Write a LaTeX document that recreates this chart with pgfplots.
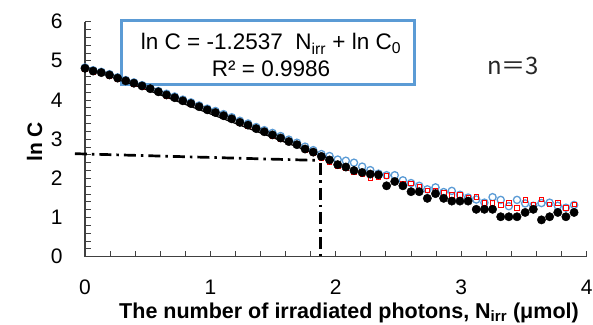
\documentclass[border=0pt]{standalone}
\usepackage{pgfplots}
\pgfplotsset{compat=1.18}
\usepackage{pgfplotstable}
\usepackage{fontspec}
\setmainfont{Liberation Sans}
\newfontfamily\cjk{Noto Sans CJK JP}
\definecolor{xlblue}{HTML}{5B9BD5}
\definecolor{xlred}{HTML}{FF0000}

\pgfplotstableread{
N black blue red
0.000 4.81 4.83 4.79
0.065 4.74 4.76 4.72
0.130 4.70 4.72 4.68
0.195 4.64 4.66 4.62
0.260 4.56 4.58 4.54
0.325 4.49 4.51 4.47
0.390 4.43 4.45 4.41
0.455 4.36 4.38 4.34
0.520 4.29 4.31 4.27
0.585 4.21 4.23 4.19
0.650 4.13 4.16 4.11
0.715 4.06 4.09 4.04
0.780 3.98 4.01 3.96
0.845 3.91 3.94 3.89
0.910 3.83 3.86 3.81
0.975 3.75 3.78 3.73
1.040 3.68 3.72 3.66
1.105 3.60 3.64 3.58
1.170 3.52 3.56 3.50
1.235 3.43 3.47 3.41
1.300 3.36 3.40 3.34
1.365 3.27 3.31 3.25
1.430 3.19 3.23 3.17
1.495 3.11 3.16 3.09
1.560 3.03 3.08 3.01
1.625 2.94 2.99 2.92
1.690 2.86 2.91 2.84
1.755 2.75 2.81 2.72
1.820 2.67 2.72 2.64
1.885 2.56 2.62 2.52
1.950 2.47 2.57 2.41
2.015 2.35 2.48 2.32
2.080 2.29 2.45 2.26
2.145 2.20 2.40 2.17
2.210 2.15 2.30 2.10
2.275 2.11 2.21 2.01
2.340 2.09 2.12 2.04
2.405 1.81 2.08 2.06
2.470 1.92 2.08 1.93
2.535 1.81 1.95 1.88
2.600 1.66 1.88 1.87
2.665 1.66 1.81 1.78
2.730 1.49 1.72 1.70
2.795 1.61 1.77 1.68
2.860 1.49 1.65 1.63
2.925 1.42 1.68 1.58
2.990 1.42 1.58 1.58
3.055 1.42 1.51 1.52
3.120 1.21 1.46 1.53
3.185 1.21 1.38 1.38
3.250 1.21 1.52 1.38
3.315 1.02 1.45 1.32
3.380 1.02 1.29 1.38
3.445 1.02 1.45 1.25
3.510 1.13 1.36 1.45
3.575 1.21 1.30 1.34
3.640 0.94 1.37 1.47
3.705 1.02 1.38 1.34
3.770 1.13 1.30 1.38
3.835 1.02 1.25 1.25
3.900 1.13 1.32 1.34
}\datatable

\begin{document}
\begin{tikzpicture}
\useasboundingbox (0,0) rectangle (593pt,324pt);
% equation box
\draw[xlblue, line width=3pt] (121pt,239pt) rectangle (414pt,303pt);
\node[anchor=base, font=\fontsize{22.5}{27}\selectfont, inner sep=0pt] at (271pt,274pt)
  {ln C = -1.2537\ \ N\textsubscript{irr} + ln C\textsubscript{0}};
\node[anchor=base, font=\fontsize{22.5}{27}\selectfont, inner sep=0pt] at (271pt,247.3pt)
  {R² = 0.9986};
\node[font=\cjk\fontsize{24}{28}\selectfont, text=black!85] at (513pt,258pt) {n＝3};
% axis labels
\node[rotate=90, font=\bfseries\fontsize{21}{25}\selectfont, inner sep=0pt] at (34.5pt,182pt) {ln C};
\node[anchor=base, font=\bfseries\fontsize{21.5}{25}\selectfont, inner sep=0pt] at (349pt,6pt)
  {The number of irradiated photons, N\textsubscript{irr} (μmol)};
\begin{axis}[
  at={(85pt,67.3pt)}, anchor=south west,
  scale only axis, width=501.6pt, height=235pt,
  xmin=0, xmax=4, ymin=0, ymax=6,
  axis x line=bottom, axis y line=left,
  axis line style={-, black!75, line width=1.2pt},
  xtick={0,1,2,3,4}, ytick={0,1,2,3,4,5,6},
  minor x tick num=4, minor y tick num=4,
  tick align=inside,
  major tick length=6pt, minor tick length=6pt,
  tick style={black!75, line width=1pt},
  ticklabel style={font=\fontsize{21}{25}\selectfont},
  /pgf/number format/assume math mode=true,
  yticklabel style={xshift=-19pt},
  xticklabel style={yshift=-20pt},
  clip=false,
]
\addplot[black, line width=1.2pt] coordinates {(0,4.86) (2.0,2.43)};
\addplot[black, line width=2.7pt, dash pattern=on 12pt off 5pt on 2.5pt off 5pt]
  coordinates {(-0.08,2.63) (1.84,2.46)};
\addplot[black, line width=2.7pt, dash pattern=on 12pt off 5pt on 2.5pt off 5pt]
  coordinates {(1.88,2.38) (1.88,0)};
\addplot[only marks, mark=o, mark size=3.6pt, mark options={draw=xlblue, line width=1.3pt}]
  table[x=N, y=blue] {\datatable};
\addplot[only marks, mark=square, mark size=2.2pt, mark options={draw=xlred, line width=0.7pt}]
  table[x=N, y=red] {\datatable};
\addplot[only marks, mark=*, mark size=4.2pt, mark options={draw=black, fill=black}]
  table[x=N, y=black] {\datatable};
\end{axis}
\end{tikzpicture}
\end{document}
